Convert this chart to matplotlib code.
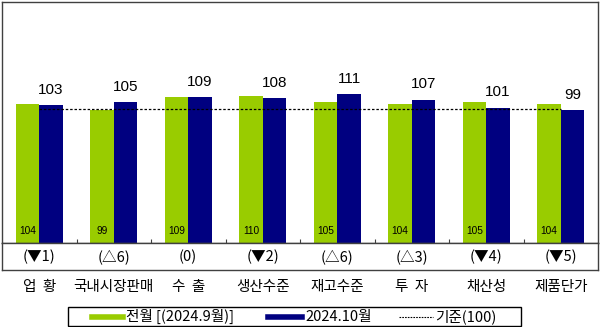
import matplotlib.pyplot as plt
import numpy as np
from matplotlib.lines import Line2D
from matplotlib.patches import Rectangle

plt.rcParams['font.family'] = ['Noto Sans CJK KR', 'DejaVu Sans']

categories = ['업  황', '국내시장판매', '수  출', '생산수준', '재고수준', '투  자', '채산성', '제품단가']
prev_month = [104, 99, 109, 110, 105, 104, 105, 104]
this_month = [103, 105, 109, 108, 111, 107, 101, 99]
changes = ['▼1', '△6', '0', '▼2', '△6', '△3', '▼4', '▼5']
base_line = 100

green = '#99CC00'
navy = '#000080'
frame = '#404040'
num_font = ['Liberation Sans', 'DejaVu Sans']

fig = plt.figure(figsize=(6.0, 3.27), dpi=100)
W, H = 600, 327

ax = fig.add_axes([2 / W, (H - 243) / H, 596 / W, 241 / H])
x = np.arange(len(categories))
w = 0.316
ax.bar(x - w / 2, prev_month, w, color=green, edgecolor='none')
ax.bar(x + w / 2, this_month, w, color=navy, edgecolor='none')

ax.plot([x[0], x[-1]], [base_line, base_line], color='black', lw=0.9,
        linestyle=(0, (2, 1.5)))

for i in range(len(x)):
    ax.annotate(str(this_month[i]), (x[i] + w / 2, this_month[i]),
                xytext=(0, 6), textcoords='offset points',
                ha='center', va='bottom', fontsize=11, family=num_font)
    ax.text(x[i] - w / 2, 5, str(prev_month[i]), ha='center', va='bottom',
            fontsize=7.3, family=num_font)

ax.set_xlim(-0.5, len(x) - 0.5)
ax.set_ylim(0, 180)
ax.set_yticks([])
ax.set_xticks(np.arange(len(x) - 1) + 0.5)
ax.tick_params(axis='x', direction='in', length=3, labelbottom=False, color=frame)
for s in ax.spines.values():
    s.set_color(frame)
    s.set_linewidth(1)

# row of month-on-month changes
ax2 = fig.add_axes([2 / W, (H - 270) / H, 596 / W, 27 / H])
ax2.set_xlim(-0.5, len(x) - 0.5)
ax2.set_ylim(0, 1)
ax2.set_xticks([])
ax2.set_yticks([])
for s in ax2.spines.values():
    s.set_color(frame)
    s.set_linewidth(1)
for i, c in enumerate(changes):
    ax2.text(x[i], 0.5, f'({c})', ha='center', va='center', fontsize=10.5)

# category names below the chart
for i, name in enumerate(categories):
    fx = (2 + 74.5 * (i + 0.5)) / W
    fig.text(fx, 1 - 287 / H, name, ha='center', va='center', fontsize=10.5)

# legend, laid out by hand in pixel positions
fig.patches.append(Rectangle((68 / W, 1 - 326 / H), (521 - 68) / W, 19 / H,
                             transform=fig.transFigure, fill=False,
                             edgecolor='black', lw=1))
ly = 1 - 316.5 / H
legend_items = [
    (92, 123, dict(color=green, lw=4), '전월 [(2024.9월)]', 126),
    (268, 302, dict(color=navy, lw=4), '2024.10월', 305),
    (399, 433, dict(color='black', lw=0.8, linestyle=(0, (1.5, 1))), '기준(100)', 435),
]
for x0, x1, style, label, tx in legend_items:
    fig.add_artist(Line2D([x0 / W, x1 / W], [ly, ly], transform=fig.transFigure, **style))
    fig.text(tx / W, ly, label, ha='left', va='center', fontsize=10.5)

fig.savefig('out.png', dpi=100)
